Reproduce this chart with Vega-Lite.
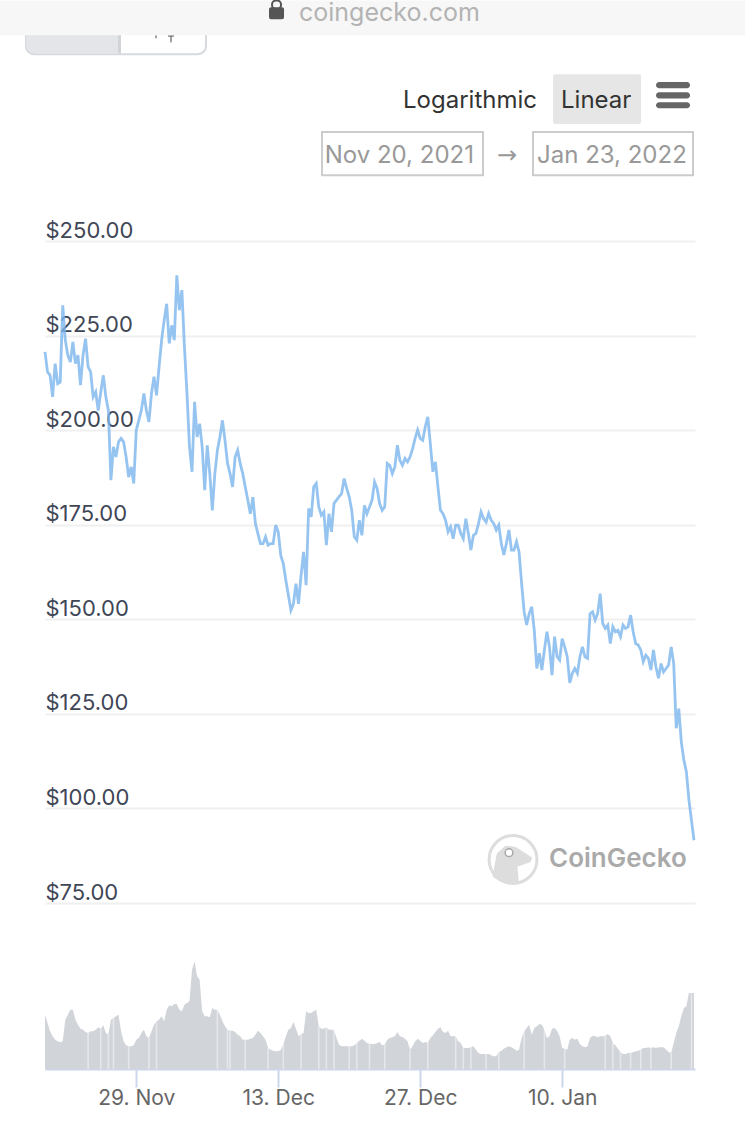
{
  "$schema": "https://vega.github.io/schema/vega-lite/v6.json",
  "autosize": "none",
  "padding": {"left": 45, "top": 241, "right": 50, "bottom": 68},
  "width": 650,
  "height": 828,
  "background": "#ffffff",
  "config": {"view": {"stroke": null}, "text": {"font": "Inter"}, "axis": {"labelFont": "Inter"}},
  "datasets": {
    "market": [
      {"d":"2021-11-20T00:00","price":220.7,"volume":54.3},{"d":"2021-11-20T06:00","price":215.4,"volume":46},{"d":"2021-11-20T12:00","price":214.5,"volume":37.7},{"d":"2021-11-20T18:00","price":208.8,"volume":32.7},
      {"d":"2021-11-21T00:00","price":217.6,"volume":29.3},{"d":"2021-11-21T06:00","price":212.3,"volume":27.7},{"d":"2021-11-21T12:00","price":212.7,"volume":26.7},{"d":"2021-11-21T18:00","price":233,"volume":27.7},
      {"d":"2021-11-22T00:00","price":223.8,"volume":49.3},{"d":"2021-11-22T06:00","price":219.8,"volume":54.3},{"d":"2021-11-22T12:00","price":218,"volume":59.3},{"d":"2021-11-22T18:00","price":223.3,"volume":59.3},
      {"d":"2021-11-23T00:00","price":217.6,"volume":49.3},{"d":"2021-11-23T06:00","price":219.8,"volume":44.3},{"d":"2021-11-23T12:00","price":211.9,"volume":40.3},{"d":"2021-11-23T18:00","price":219.8,"volume":39.3},
      {"d":"2021-11-24T00:00","price":224.2,"volume":37},{"d":"2021-11-24T06:00","price":216.7,"volume":36},{"d":"2021-11-24T12:00","price":215.4,"volume":37.7},{"d":"2021-11-24T18:00","price":208.8,"volume":37.7},
      {"d":"2021-11-25T00:00","price":210.1,"volume":39.3},{"d":"2021-11-25T06:00","price":205.2,"volume":41.7},{"d":"2021-11-25T12:00","price":210.1,"volume":40.3},{"d":"2021-11-25T18:00","price":214.5,"volume":43.7},
      {"d":"2021-11-26T00:00","price":208.8,"volume":36},{"d":"2021-11-26T06:00","price":205.2,"volume":34.3},{"d":"2021-11-26T12:00","price":186.8,"volume":49.3},{"d":"2021-11-26T18:00","price":195.6,"volume":51},
      {"d":"2021-11-27T00:00","price":192.9,"volume":52.7},{"d":"2021-11-27T06:00","price":196.9,"volume":54.3},{"d":"2021-11-27T12:00","price":197.8,"volume":37.7},{"d":"2021-11-27T18:00","price":196.9,"volume":27.7},
      {"d":"2021-11-28T00:00","price":192.9,"volume":23.7},{"d":"2021-11-28T06:00","price":187.6,"volume":22.7},{"d":"2021-11-28T12:00","price":190.3,"volume":22.7},{"d":"2021-11-28T18:00","price":185.9,"volume":23.7},
      {"d":"2021-11-29T00:00","price":200,"volume":29.3},{"d":"2021-11-29T06:00","price":202.6,"volume":31},{"d":"2021-11-29T12:00","price":205.2,"volume":36},{"d":"2021-11-29T18:00","price":209.7,"volume":39.3},
      {"d":"2021-11-30T00:00","price":205.2,"volume":32.7},{"d":"2021-11-30T06:00","price":202.2,"volume":31},{"d":"2021-11-30T12:00","price":209.7,"volume":37.7},{"d":"2021-11-30T18:00","price":214.1,"volume":44.3},
      {"d":"2021-12-01T00:00","price":209.2,"volume":47.7},{"d":"2021-12-01T06:00","price":216.7,"volume":49.3},{"d":"2021-12-01T12:00","price":223.8,"volume":52.7},{"d":"2021-12-01T18:00","price":229,"volume":47.7},
      {"d":"2021-12-02T00:00","price":233.4,"volume":59.3},{"d":"2021-12-02T06:00","price":222.9,"volume":63.7},{"d":"2021-12-02T12:00","price":227.7,"volume":62.7},{"d":"2021-12-02T18:00","price":223.8,"volume":65},
      {"d":"2021-12-03T00:00","price":240.9,"volume":65},{"d":"2021-12-03T06:00","price":231.7,"volume":59.3},{"d":"2021-12-03T12:00","price":237,"volume":57.7},{"d":"2021-12-03T18:00","price":222,"volume":64.3},
      {"d":"2021-12-04T00:00","price":209.7,"volume":66},{"d":"2021-12-04T06:00","price":195.6,"volume":67.7},{"d":"2021-12-04T12:00","price":189,"volume":99.3},{"d":"2021-12-04T18:00","price":207.5,"volume":107.7},
      {"d":"2021-12-05T00:00","price":198.2,"volume":92.7},{"d":"2021-12-05T06:00","price":201.7,"volume":89.3},{"d":"2021-12-05T12:00","price":195.6,"volume":57.7},{"d":"2021-12-05T18:00","price":184.1,"volume":52.7},
      {"d":"2021-12-06T00:00","price":196,"volume":52.7},{"d":"2021-12-06T06:00","price":188.5,"volume":51.7},{"d":"2021-12-06T12:00","price":178.8,"volume":61},{"d":"2021-12-06T18:00","price":188.5,"volume":59.3},
      {"d":"2021-12-07T00:00","price":194.7,"volume":59.3},{"d":"2021-12-07T06:00","price":198.2,"volume":54.3},{"d":"2021-12-07T12:00","price":202.6,"volume":47.7},{"d":"2021-12-07T18:00","price":197.3,"volume":42.7},
      {"d":"2021-12-08T00:00","price":191.2,"volume":39.3},{"d":"2021-12-08T06:00","price":188.5,"volume":38.3},{"d":"2021-12-08T12:00","price":185,"volume":38.3},{"d":"2021-12-08T18:00","price":192.9,"volume":37},
      {"d":"2021-12-09T00:00","price":194.7,"volume":34.3},{"d":"2021-12-09T06:00","price":191.2,"volume":32.7},{"d":"2021-12-09T12:00","price":188.5,"volume":29.3},{"d":"2021-12-09T18:00","price":185,"volume":29.3},
      {"d":"2021-12-10T00:00","price":181.5,"volume":29.3},{"d":"2021-12-10T06:00","price":177.9,"volume":30.3},{"d":"2021-12-10T12:00","price":182.3,"volume":31},{"d":"2021-12-10T18:00","price":175.3,"volume":34.3},
      {"d":"2021-12-11T00:00","price":172.6,"volume":38.3},{"d":"2021-12-11T06:00","price":170,"volume":36},{"d":"2021-12-11T12:00","price":170,"volume":32.7},{"d":"2021-12-11T18:00","price":171.8,"volume":29.3},
      {"d":"2021-12-12T00:00","price":169.6,"volume":21},{"d":"2021-12-12T06:00","price":170,"volume":19.3},{"d":"2021-12-12T12:00","price":170,"volume":18.3},{"d":"2021-12-12T18:00","price":174.9,"volume":17.7},
      {"d":"2021-12-13T00:00","price":173.1,"volume":17.7},{"d":"2021-12-13T06:00","price":166.9,"volume":19.3},{"d":"2021-12-13T12:00","price":164.7,"volume":24.3},{"d":"2021-12-13T18:00","price":160.3,"volume":32.7},
      {"d":"2021-12-14T00:00","price":156.4,"volume":39.3},{"d":"2021-12-14T06:00","price":152.4,"volume":41},{"d":"2021-12-14T12:00","price":154.1,"volume":47},{"d":"2021-12-14T18:00","price":159.4,"volume":40.3},
      {"d":"2021-12-15T00:00","price":154.1,"volume":32.7},{"d":"2021-12-15T06:00","price":161.6,"volume":35},{"d":"2021-12-15T12:00","price":167.8,"volume":36},{"d":"2021-12-15T18:00","price":159,"volume":57.7},
      {"d":"2021-12-16T00:00","price":179.3,"volume":56},{"d":"2021-12-16T06:00","price":177.1,"volume":56},{"d":"2021-12-16T12:00","price":185,"volume":57.7},{"d":"2021-12-16T18:00","price":185.9,"volume":59.3},
      {"d":"2021-12-17T00:00","price":179.7,"volume":42.7},{"d":"2021-12-17T06:00","price":177.5,"volume":40.3},{"d":"2021-12-17T12:00","price":178.4,"volume":40.3},{"d":"2021-12-17T18:00","price":169.6,"volume":41.7},
      {"d":"2021-12-18T00:00","price":177.9,"volume":39.3},{"d":"2021-12-18T06:00","price":173.1,"volume":39.3},{"d":"2021-12-18T12:00","price":180.6,"volume":39.3},{"d":"2021-12-18T18:00","price":181.5,"volume":31},
      {"d":"2021-12-19T00:00","price":182.4,"volume":24.3},{"d":"2021-12-19T06:00","price":183.2,"volume":22.7},{"d":"2021-12-19T12:00","price":187.2,"volume":22.7},{"d":"2021-12-19T18:00","price":184.6,"volume":22.7},
      {"d":"2021-12-20T00:00","price":182.4,"volume":22.7},{"d":"2021-12-20T06:00","price":178.8,"volume":22.7},{"d":"2021-12-20T12:00","price":171.8,"volume":23.7},{"d":"2021-12-20T18:00","price":170.9,"volume":26},
      {"d":"2021-12-21T00:00","price":176.2,"volume":28.3},{"d":"2021-12-21T06:00","price":172.2,"volume":30.3},{"d":"2021-12-21T12:00","price":180.1,"volume":28.3},{"d":"2021-12-21T18:00","price":177.9,"volume":26},
      {"d":"2021-12-22T00:00","price":179.7,"volume":25.3},{"d":"2021-12-22T06:00","price":181.5,"volume":25},{"d":"2021-12-22T12:00","price":186.3,"volume":25},{"d":"2021-12-22T18:00","price":184.6,"volume":26},
      {"d":"2021-12-23T00:00","price":180.6,"volume":27},{"d":"2021-12-23T06:00","price":178.8,"volume":23.7},{"d":"2021-12-23T12:00","price":179.7,"volume":24.3},{"d":"2021-12-23T18:00","price":191.2,"volume":29.3},
      {"d":"2021-12-24T00:00","price":190.7,"volume":31},{"d":"2021-12-24T06:00","price":188.5,"volume":31.7},{"d":"2021-12-24T12:00","price":190.3,"volume":32.7},{"d":"2021-12-24T18:00","price":196,"volume":37},
      {"d":"2021-12-25T00:00","price":192,"volume":32.7},{"d":"2021-12-25T06:00","price":190.7,"volume":32},{"d":"2021-12-25T12:00","price":192.5,"volume":30.3},{"d":"2021-12-25T18:00","price":191.6,"volume":27.7},
      {"d":"2021-12-26T00:00","price":192.9,"volume":19.3},{"d":"2021-12-26T06:00","price":195.1,"volume":22.7},{"d":"2021-12-26T12:00","price":197.8,"volume":27.7},{"d":"2021-12-26T18:00","price":200,"volume":30.3},
      {"d":"2021-12-27T00:00","price":197.8,"volume":28.3},{"d":"2021-12-27T06:00","price":197.3,"volume":26},{"d":"2021-12-27T12:00","price":200.9,"volume":27},{"d":"2021-12-27T18:00","price":203.5,"volume":26},
      {"d":"2021-12-28T00:00","price":196.4,"volume":31},{"d":"2021-12-28T06:00","price":189,"volume":33.7},{"d":"2021-12-28T12:00","price":191.6,"volume":37},{"d":"2021-12-28T18:00","price":185,"volume":40.3},
      {"d":"2021-12-29T00:00","price":178.8,"volume":41.7},{"d":"2021-12-29T06:00","price":177.9,"volume":37},{"d":"2021-12-29T12:00","price":176.2,"volume":36},{"d":"2021-12-29T18:00","price":173.1,"volume":38.3},
      {"d":"2021-12-30T00:00","price":174.4,"volume":32.7},{"d":"2021-12-30T06:00","price":171.3,"volume":32.7},{"d":"2021-12-30T12:00","price":174.9,"volume":32.7},{"d":"2021-12-30T18:00","price":174.9,"volume":27.7},
      {"d":"2021-12-31T00:00","price":172.7,"volume":26},{"d":"2021-12-31T06:00","price":171.3,"volume":21},{"d":"2021-12-31T12:00","price":176.6,"volume":21},{"d":"2021-12-31T18:00","price":172.7,"volume":21},
      {"d":"2022-01-01T00:00","price":168.3,"volume":21.7},{"d":"2022-01-01T06:00","price":172.2,"volume":22.7},{"d":"2022-01-01T12:00","price":172.7,"volume":19.3},{"d":"2022-01-01T18:00","price":175.3,"volume":16},
      {"d":"2022-01-02T00:00","price":178.4,"volume":15},{"d":"2022-01-02T06:00","price":176.6,"volume":15},{"d":"2022-01-02T12:00","price":175.7,"volume":15},{"d":"2022-01-02T18:00","price":178,"volume":15},
      {"d":"2022-01-03T00:00","price":176.2,"volume":13.7},{"d":"2022-01-03T06:00","price":175.3,"volume":12.7},{"d":"2022-01-03T12:00","price":173.6,"volume":12.7},{"d":"2022-01-03T18:00","price":174.9,"volume":17},
      {"d":"2022-01-04T00:00","price":170,"volume":18.3},{"d":"2022-01-04T06:00","price":167,"volume":20.3},{"d":"2022-01-04T12:00","price":170,"volume":21.7},{"d":"2022-01-04T18:00","price":173.6,"volume":22.7},
      {"d":"2022-01-05T00:00","price":168.3,"volume":21.7},{"d":"2022-01-05T06:00","price":168.3,"volume":20.3},{"d":"2022-01-05T12:00","price":170.5,"volume":18.3},{"d":"2022-01-05T18:00","price":167.8,"volume":19.3},
      {"d":"2022-01-06T00:00","price":159.5,"volume":31},{"d":"2022-01-06T06:00","price":152,"volume":37.7},{"d":"2022-01-06T12:00","price":148.5,"volume":41},{"d":"2022-01-06T18:00","price":151.5,"volume":44.3},
      {"d":"2022-01-07T00:00","price":153.3,"volume":34.3},{"d":"2022-01-07T06:00","price":147.1,"volume":41},{"d":"2022-01-07T12:00","price":137,"volume":42.7},{"d":"2022-01-07T18:00","price":141,"volume":45},
      {"d":"2022-01-08T00:00","price":136.6,"volume":44.3},{"d":"2022-01-08T06:00","price":141.9,"volume":39.3},{"d":"2022-01-08T12:00","price":146.7,"volume":31},{"d":"2022-01-08T18:00","price":142.7,"volume":32.7},
      {"d":"2022-01-09T00:00","price":135.2,"volume":40.3},{"d":"2022-01-09T06:00","price":145.4,"volume":41},{"d":"2022-01-09T12:00","price":140.1,"volume":38.3},{"d":"2022-01-09T18:00","price":139.2,"volume":32.7},
      {"d":"2022-01-10T00:00","price":144.9,"volume":21},{"d":"2022-01-10T06:00","price":142.7,"volume":20.3},{"d":"2022-01-10T12:00","price":140.1,"volume":19.3},{"d":"2022-01-10T18:00","price":133.2,"volume":29.3},
      {"d":"2022-01-11T00:00","price":135.7,"volume":31},{"d":"2022-01-11T06:00","price":137,"volume":29.3},{"d":"2022-01-11T12:00","price":135.7,"volume":30.3},{"d":"2022-01-11T18:00","price":140.1,"volume":25},
      {"d":"2022-01-12T00:00","price":142.7,"volume":22.7},{"d":"2022-01-12T06:00","price":140.1,"volume":21.7},{"d":"2022-01-12T12:00","price":139.7,"volume":22.7},{"d":"2022-01-12T18:00","price":151.5,"volume":31},
      {"d":"2022-01-13T00:00","price":152,"volume":33.3},{"d":"2022-01-13T06:00","price":149.8,"volume":32.7},{"d":"2022-01-13T12:00","price":151.5,"volume":31.7},{"d":"2022-01-13T18:00","price":156.8,"volume":32.7},
      {"d":"2022-01-14T00:00","price":148.9,"volume":32.7},{"d":"2022-01-14T06:00","price":147.6,"volume":33.3},{"d":"2022-01-14T12:00","price":148.5,"volume":35},{"d":"2022-01-14T18:00","price":143.6,"volume":32.7},
      {"d":"2022-01-15T00:00","price":148,"volume":26},{"d":"2022-01-15T06:00","price":146.7,"volume":23.7},{"d":"2022-01-15T12:00","price":147.1,"volume":20.3},{"d":"2022-01-15T18:00","price":145.4,"volume":17},
      {"d":"2022-01-16T00:00","price":148.5,"volume":15},{"d":"2022-01-16T06:00","price":147.6,"volume":15},{"d":"2022-01-16T12:00","price":148,"volume":16},{"d":"2022-01-16T18:00","price":151.1,"volume":16},
      {"d":"2022-01-17T00:00","price":146.7,"volume":17},{"d":"2022-01-17T06:00","price":143.6,"volume":17.7},{"d":"2022-01-17T12:00","price":143.2,"volume":18.3},{"d":"2022-01-17T18:00","price":141.9,"volume":19.3},
      {"d":"2022-01-18T00:00","price":138.8,"volume":21},{"d":"2022-01-18T06:00","price":140.5,"volume":21},{"d":"2022-01-18T12:00","price":139.7,"volume":21.7},{"d":"2022-01-18T18:00","price":136.6,"volume":21},
      {"d":"2022-01-19T00:00","price":141.9,"volume":21.7},{"d":"2022-01-19T06:00","price":137.4,"volume":21},{"d":"2022-01-19T12:00","price":134.4,"volume":21.7},{"d":"2022-01-19T18:00","price":138.3,"volume":21.7},
      {"d":"2022-01-20T00:00","price":136.1,"volume":21.7},{"d":"2022-01-20T06:00","price":137,"volume":19.3},{"d":"2022-01-20T12:00","price":137.9,"volume":17},{"d":"2022-01-20T18:00","price":142.7,"volume":16},
      {"d":"2022-01-21T00:00","price":138.3,"volume":26},{"d":"2022-01-21T06:00","price":121.2,"volume":36},{"d":"2022-01-21T12:00","price":126.4,"volume":42.7},{"d":"2022-01-21T18:00","price":117.6,"volume":52.7},
      {"d":"2022-01-22T00:00","price":112.8,"volume":61},{"d":"2022-01-22T06:00","price":109.7,"volume":62.7},{"d":"2022-01-22T12:00","price":102.2,"volume":76},{"d":"2022-01-22T18:00","price":96.9,"volume":76},
      {"d":"2022-01-23T00:00","price":91.6,"volume":76}
    ],
    "volume_gaps": [
      {"d":"2021-11-24T06:00","volume":36},{"d":"2021-11-25T12:00","volume":40.3},{"d":"2021-11-26T06:00","volume":34.3},{"d":"2021-11-26T18:00","volume":51},{"d":"2021-11-28T06:00","volume":22.7},{"d":"2021-11-30T06:00","volume":31},{"d":"2021-12-01T00:00","volume":47.7},{"d":"2021-12-07T00:00","volume":59.3},{"d":"2021-12-08T00:00","volume":39.3},{"d":"2021-12-08T06:00","volume":38.3},{"d":"2021-12-09T18:00","volume":29.3},{"d":"2021-12-12T00:00","volume":21},{"d":"2021-12-13T12:00","volume":24.3},{"d":"2021-12-15T06:00","volume":35},{"d":"2021-12-17T00:00","volume":42.7},{"d":"2021-12-17T18:00","volume":41.7},{"d":"2021-12-18T12:00","volume":39.3},{"d":"2021-12-20T00:00","volume":22.7},{"d":"2021-12-20T18:00","volume":26},{"d":"2021-12-22T00:00","volume":25.3},{"d":"2021-12-23T12:00","volume":24.3},{"d":"2021-12-26T00:00","volume":19.3},{"d":"2021-12-27T18:00","volume":26},{"d":"2021-12-30T12:00","volume":32.7},{"d":"2021-12-31T06:00","volume":21},{"d":"2022-01-01T00:00","volume":21.7},{"d":"2022-01-02T12:00","volume":15},{"d":"2022-01-03T18:00","volume":17},{"d":"2022-01-06T06:00","volume":37.7},{"d":"2022-01-08T06:00","volume":39.3},{"d":"2022-01-10T06:00","volume":20.3},{"d":"2022-01-14T06:00","volume":33.3},{"d":"2022-01-15T00:00","volume":26},{"d":"2022-01-15T18:00","volume":17},{"d":"2022-01-16T18:00","volume":16},{"d":"2022-01-17T18:00","volume":19.3},{"d":"2022-01-18T18:00","volume":21},{"d":"2022-01-20T18:00","volume":16},{"d":"2022-01-22T18:00","volume":76}
    ]
  },
  "encoding": {
    "x": {"type": "temporal", "title": null,
      "scale": {"domain": [{"year": 2021, "month": 11, "date": 20}, {"year": 2022, "month": 1, "date": 23, "hours": 2, "minutes": 24}]},
      "axis": {"values": [{"year": 2021, "month": 11, "date": 29}, {"year": 2021, "month": 12, "date": 13}, {"year": 2021, "month": 12, "date": 27}, {"year": 2022, "month": 1, "date": 10}], "format": "%-d. %b", "formatType": "time", "domainColor": "#ccd6eb", "domainWidth": 2, "tickColor": "#ccd6eb", "tickWidth": 2, "tickSize": 18, "labelFontSize": 21, "labelColor": "#666666", "labelPadding": 0, "labelFlush": false, "grid": false, "labelOverlap": false}}
  },
  "layer": [
    {
      "encoding": {
        "y": {"type": "quantitative", "title": null, "axis": null, "scale": {"domain": [0, 110], "range": [828, 718]}}
      },
      "layer": [
        {
          "data": {"name": "market"},
          "mark": {"type": "area", "color": "#d1d4d9", "interpolate": "linear"},
          "encoding": {"x": {"field": "d"}, "y": {"field": "volume"}}
        },
        {
          "data": {"name": "volume_gaps"},
          "mark": {"type": "rule", "color": "#ffffff", "opacity": 0.45, "strokeWidth": 1.6},
          "encoding": {"x": {"field": "d"}, "y": {"field": "volume"}, "y2": {"datum": 0}}
        }
      ]
    },
    {
      "data": {"values": [{}]},
      "encoding": {
        "y": {"type": "quantitative", "title": null, "scale": {"domain": [75, 250], "range": [662, 0]},
          "axis": {"orient": "left", "values": [75, 100, 125, 150, 175, 200, 225, 250], "format": "$.2f", "domain": false, "ticks": false, "grid": true, "gridColor": "#f0f0f0", "gridWidth": 2, "labelAlign": "left", "labelPadding": 0, "labelOffset": -11, "labelFontSize": 22, "labelColor": "#3f4656"}}
      },
      "layer": [
        {
          "data": {"name": "market"},
          "mark": {"type": "line", "color": "#7cb5ec", "strokeWidth": 2.8, "opacity": 0.8},
          "encoding": {"x": {"field": "d"}, "y": {"field": "price"}}
        },
        {"mark": {"type": "point", "filled": true, "fill": "#ffffff", "stroke": "#dddddd", "strokeWidth": 3, "opacity": 1, "shape": "circle", "size": 2290},
         "encoding": {"x": {"datum": {"year": 2022, "month": 1, "date": 5, "hours": 3, "minutes": 42}}, "y": {"datum": 86.5}}},
        {"mark": {"type": "point", "filled": true, "color": "#dddddd", "opacity": 1, "size": 2916, "shape": "M-.76,.63 L-.6,-.22 L-.27,-.52 L.1,-.46 L.71,-.07 L.65,.09 L.16,.27 L.22,.88 Q-.3,1 -.76,.63 Z"},
         "encoding": {"x": {"datum": {"year": 2022, "month": 1, "date": 5, "hours": 3, "minutes": 42}}, "y": {"datum": 86.5}}},
        {"mark": {"type": "point", "filled": true, "fill": "#ffffff", "stroke": "#aaaaaa", "strokeWidth": 1.5, "opacity": 1, "shape": "circle", "size": 60},
         "encoding": {"x": {"datum": {"year": 2022, "month": 1, "date": 4, "hours": 18, "minutes": 12}}, "y": {"datum": 88.3}}},
        {"mark": {"type": "text", "text": "CoinGecko", "align": "left", "baseline": "middle", "fontSize": 26, "fontWeight": 600, "color": "#aaaaaa"},
         "encoding": {"x": {"datum": {"year": 2022, "month": 1, "date": 8, "hours": 16, "minutes": 54}}, "y": {"datum": 86.5}}},

        {"mark": {"type": "rect", "fill": "#ffffff", "stroke": "#d6d9de", "strokeWidth": 2, "cornerRadius": 8},
         "encoding": {"x": {"datum": {"year": 2021, "month": 11, "date": 18, "hours": 3}}, "x2": {"datum": {"year": 2021, "month": 12, "date": 5, "hours": 21}}, "y": {"datum": 308.3}, "y2": {"datum": 299.4}}},
        {"mark": {"type": "rect", "fill": "#e3e5e9", "cornerRadius": 8},
         "encoding": {"x": {"datum": {"year": 2021, "month": 11, "date": 18, "hours": 3, "minutes": 30}}, "x2": {"datum": {"year": 2021, "month": 11, "date": 23}}, "y": {"datum": 308.3}, "y2": {"datum": 299.6}}},
        {"mark": {"type": "rect", "fill": "#e3e5e9"},
         "encoding": {"x": {"datum": {"year": 2021, "month": 11, "date": 21, "hours": 11, "minutes": 30}}, "x2": {"datum": {"year": 2021, "month": 11, "date": 27, "hours": 4, "minutes": 48}}, "y": {"datum": 308.3}, "y2": {"datum": 299.6}}},
        {"mark": {"type": "rect", "fill": "#d0d3d8"},
         "encoding": {"x": {"datum": {"year": 2021, "month": 11, "date": 27, "hours": 4, "minutes": 48}}, "x2": {"datum": {"year": 2021, "month": 11, "date": 27, "hours": 11, "minutes": 54}}, "y": {"datum": 308.3}, "y2": {"datum": 299.6}}},
        {"mark": {"type": "rule", "color": "#444444", "strokeWidth": 1},
         "encoding": {"x": {"datum": {"year": 2021, "month": 11, "date": 30, "hours": 22, "minutes": 42}}, "y": {"datum": 304.4}, "y2": {"datum": 303.6}}},
        {"mark": {"type": "rule", "color": "#444444", "strokeWidth": 1},
         "encoding": {"x": {"datum": {"year": 2021, "month": 12, "date": 2, "hours": 10, "minutes": 12}}, "y": {"datum": 304.2}, "y2": {"datum": 302.5}}},
        {"mark": {"type": "rule", "color": "#444444", "strokeWidth": 1},
         "encoding": {"x": {"datum": {"year": 2021, "month": 12, "date": 2, "hours": 3, "minutes": 6}}, "x2": {"datum": {"year": 2021, "month": 12, "date": 2, "hours": 17, "minutes": 18}}, "y": {"datum": 304.2}}},

        {"mark": {"type": "rect", "fill": "#f7f7f7"},
         "encoding": {"x": {"datum": {"year": 2021, "month": 11, "date": 15, "hours": 13, "minutes": 30}}, "x2": {"datum": {"year": 2022, "month": 1, "date": 28, "minutes": 50}}, "y": {"datum": 313.6}, "y2": {"datum": 304.4}}},
        {"mark": {"type": "rect", "fill": null, "stroke": "#555555", "strokeWidth": 2, "cornerRadius": 4},
         "encoding": {"x": {"datum": {"year": 2021, "month": 12, "date": 12, "hours": 9, "minutes": 18}}, "x2": {"datum": {"year": 2021, "month": 12, "date": 13, "hours": 6, "minutes": 36}}, "y": {"datum": 313.6}, "y2": {"datum": 311.3}}},
        {"mark": {"type": "rect", "fill": "#555555", "cornerRadius": 2},
         "encoding": {"x": {"datum": {"year": 2021, "month": 12, "date": 12, "hours": 2, "minutes": 12}}, "x2": {"datum": {"year": 2021, "month": 12, "date": 13, "hours": 13, "minutes": 42}}, "y": {"datum": 311.8}, "y2": {"datum": 308.6}}},
        {"mark": {"type": "text", "text": "coingecko.com", "align": "left", "baseline": "middle", "fontSize": 25, "color": "#b3b3b3"},
         "encoding": {"x": {"datum": {"year": 2021, "month": 12, "date": 15, "hours": 1, "minutes": 12}}, "y": {"datum": 310.4}}},

        {"mark": {"type": "text", "text": "Logarithmic", "align": "left", "baseline": "middle", "fontSize": 24, "color": "#333333"},
         "encoding": {"x": {"datum": {"year": 2021, "month": 12, "date": 25, "hours": 7, "minutes": 24}}, "y": {"datum": 287}}},
        {"mark": {"type": "rect", "fill": "#e6e6e6", "cornerRadius": 2},
         "encoding": {"x": {"datum": {"year": 2022, "month": 1, "date": 9, "hours": 2, "minutes": 24}}, "x2": {"datum": {"year": 2022, "month": 1, "date": 17, "hours": 18, "minutes": 42}}, "y": {"datum": 294.1}, "y2": {"datum": 280.9}}},
        {"mark": {"type": "text", "text": "Linear", "align": "left", "baseline": "middle", "fontSize": 24, "color": "#333333"},
         "encoding": {"x": {"datum": {"year": 2022, "month": 1, "date": 9, "hours": 21, "minutes": 18}}, "y": {"datum": 287}}},
        {"mark": {"type": "rect", "fill": "#666666", "cornerRadius": 3},
         "encoding": {"x": {"datum": {"year": 2022, "month": 1, "date": 19, "hours": 6, "minutes": 12}}, "x2": {"datum": {"year": 2022, "month": 1, "date": 22, "hours": 14, "minutes": 36}}, "y": {"datum": 292}, "y2": {"datum": 290.4}}},
        {"mark": {"type": "rect", "fill": "#666666", "cornerRadius": 3},
         "encoding": {"x": {"datum": {"year": 2022, "month": 1, "date": 19, "hours": 6, "minutes": 12}}, "x2": {"datum": {"year": 2022, "month": 1, "date": 22, "hours": 14, "minutes": 36}}, "y": {"datum": 289.3}, "y2": {"datum": 287.7}}},
        {"mark": {"type": "rect", "fill": "#666666", "cornerRadius": 3},
         "encoding": {"x": {"datum": {"year": 2022, "month": 1, "date": 19, "hours": 6, "minutes": 12}}, "x2": {"datum": {"year": 2022, "month": 1, "date": 22, "hours": 14, "minutes": 36}}, "y": {"datum": 286.7}, "y2": {"datum": 285.1}}},

        {"mark": {"type": "rect", "fill": "#ffffff", "stroke": "#cccccc", "strokeWidth": 2},
         "encoding": {"x": {"datum": {"year": 2021, "month": 12, "date": 17, "hours": 7, "minutes": 36}}, "x2": {"datum": {"year": 2022, "month": 1, "date": 2, "hours": 4, "minutes": 42}}, "y": {"datum": 278.8}, "y2": {"datum": 267.4}}},
        {"mark": {"type": "rect", "fill": "#ffffff", "stroke": "#cccccc", "strokeWidth": 2},
         "encoding": {"x": {"datum": {"year": 2022, "month": 1, "date": 7, "hours": 3}}, "x2": {"datum": {"year": 2022, "month": 1, "date": 22, "hours": 21, "minutes": 42}}, "y": {"datum": 278.8}, "y2": {"datum": 267.4}}},
        {"mark": {"type": "text", "text": "Nov 20, 2021", "align": "left", "baseline": "middle", "fontSize": 24, "color": "#999999"},
         "encoding": {"x": {"datum": {"year": 2021, "month": 12, "date": 17, "hours": 14}}, "y": {"datum": 272.4}}},
        {"mark": {"type": "text", "text": "→", "align": "center", "baseline": "middle", "fontSize": 24, "font": "DejaVu Sans", "color": "#999999"},
         "encoding": {"x": {"datum": {"year": 2022, "month": 1, "date": 4, "hours": 13, "minutes": 30}}, "y": {"datum": 272.4}}},
        {"mark": {"type": "text", "text": "Jan 23, 2022", "align": "left", "baseline": "middle", "fontSize": 24, "color": "#999999"},
         "encoding": {"x": {"datum": {"year": 2022, "month": 1, "date": 7, "hours": 12, "minutes": 30}}, "y": {"datum": 272.4}}}
      ]
    }
  ],
  "resolve": {"scale": {"y": "independent"}, "axis": {"y": "independent"}}
}
